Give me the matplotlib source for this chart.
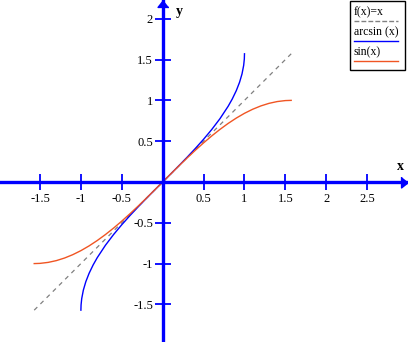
import numpy as np
import matplotlib
matplotlib.use("Agg")
import matplotlib.pyplot as plt
from matplotlib.lines import Line2D
from matplotlib.patches import Rectangle

# ---- data ----
id_x = [-1.5708, 1.5708]
id_y = [-1.5708, 1.5708]

sin_x = [-1.5708, -1.5, -1.4, -1.3, -1.2, -1.1, -1.0, -0.9, -0.8, -0.7, -0.6, -0.5, -0.4, -0.3, -0.2, -0.1,
         0.0, 0.1, 0.2, 0.3, 0.4, 0.5, 0.6, 0.7, 0.8, 0.9, 1.0, 1.1, 1.2, 1.3, 1.4, 1.5, 1.5708]
sin_y = [-1.0, -0.9975, -0.9854, -0.9636, -0.9320, -0.8912, -0.8415, -0.7833, -0.7174, -0.6442, -0.5646,
         -0.4794, -0.3894, -0.2955, -0.1987, -0.0998,
         0.0, 0.0998, 0.1987, 0.2955, 0.3894, 0.4794, 0.5646, 0.6442, 0.7174, 0.7833, 0.8415, 0.8912,
         0.9320, 0.9636, 0.9854, 0.9975, 1.0]

asin_x = [-1.0, -0.998, -0.99, -0.97, -0.94, -0.9, -0.85, -0.8, -0.7, -0.6, -0.5, -0.4, -0.3, -0.2, -0.1,
          0.0, 0.1, 0.2, 0.3, 0.4, 0.5, 0.6, 0.7, 0.8, 0.85, 0.9, 0.94, 0.97, 0.99, 0.998, 1.0]
asin_y = [-1.5708, -1.5075, -1.4293, -1.3252, -1.2226, -1.1198, -1.0160, -0.9273, -0.7754, -0.6435,
          -0.5236, -0.4115, -0.3047, -0.2014, -0.1002,
          0.0, 0.1002, 0.2014, 0.3047, 0.4115, 0.5236, 0.6435, 0.7754, 0.9273, 1.0160, 1.1198, 1.2226,
          1.3252, 1.4293, 1.5075, 1.5708]

x_ticks = [-1.5, -1, -0.5, 0.5, 1, 1.5, 2, 2.5]
x_tick_labels = ["-1.5", "-1", "-0.5", "0.5", "1", "1.5", "2", "2.5"]
y_ticks = [-1.5, -1, -0.5, 0.5, 1, 1.5, 2]
y_tick_labels = ["-1.5", "-1", "-0.5", "0.5", "1", "1.5", "2"]

legend_labels = ["f(x)=x", "arcsin (x)", "sin(x)"]

# ---- figure ----
W, H, DPI = 408, 342, 100
fig = plt.figure(figsize=(W / DPI, H / DPI), dpi=DPI)
ax = fig.add_axes([0, 0, 1, 1])
ax.set_xlim(-1.989, 2.999)
ax.set_ylim(-1.961, 2.230)

serif = ["Liberation Serif", "DejaVu Serif"]
AX_BLUE = "#0000FF"
SIN_COL = "#F05523"

ax.plot(id_x, id_y, color="#808080", lw=0.9, dashes=(3.5, 3.5))
ax.plot(asin_x, asin_y, color=AX_BLUE, lw=1.0)
ax.plot(sin_x, sin_y, color=SIN_COL, lw=1.0)

for s in ["top", "right"]:
    ax.spines[s].set_visible(False)
for s in ["left", "bottom"]:
    ax.spines[s].set_position("zero")
    ax.spines[s].set_color(AX_BLUE)
    ax.spines[s].set_linewidth(2.4)

ax.set_xticks(x_ticks)
ax.set_xticklabels(x_tick_labels, family=serif, fontsize=9)
ax.set_yticks(y_ticks)
ax.set_yticklabels(y_tick_labels, family=serif, fontsize=9)
ax.tick_params(axis="both", direction="inout", length=12, width=1.3, color=AX_BLUE)
ax.tick_params(axis="x", pad=2)
ax.tick_params(axis="y", pad=1)

# arrowheads
ax.plot(1, 0, marker=[(0, 0), (-7, -5.5), (-7, 5.5)], ms=10, color=AX_BLUE,
        transform=ax.get_yaxis_transform(), clip_on=False)
ax.plot(0, 1, marker=[(0, 0), (-5.5, -7), (5.5, -7)], ms=10, color=AX_BLUE,
        transform=ax.get_xaxis_transform(), clip_on=False)

# axis labels
def fx(px):
    return px / W
def fy(py):
    return 1 - py / H

fig.text(fx(400), fy(167), "x", family=serif, fontsize=10, fontweight="bold", ha="center", va="center")
fig.text(fx(179), fy(12), "y", family=serif, fontsize=10, fontweight="bold", ha="center", va="center")

# custom legend box
fig.patches.append(Rectangle((fx(349.5), fy(69.5)), (405 - 349.5) / W, (69.5 - 1) / H,
                             transform=fig.transFigure, fill=False, edgecolor="black", lw=1.0))
styles = [dict(color="#808080", lw=1.0, dashes=(3.5, 1.5)),
          dict(color=AX_BLUE, lw=1.0),
          dict(color=SIN_COL, lw=1.0)]
text_y = [12.5, 32.5, 52.5]
line_y = [20.5, 40.5, 60.5]
for lab, st, ty, ly in zip(legend_labels, styles, text_y, line_y):
    fig.text(fx(354), fy(ty), lab, family=serif, fontsize=8.5, ha="left", va="center")
    fig.lines.append(Line2D([fx(354), fx(398)], [fy(ly), fy(ly)], transform=fig.transFigure, **st))

fig.savefig("out.png", dpi=DPI)
